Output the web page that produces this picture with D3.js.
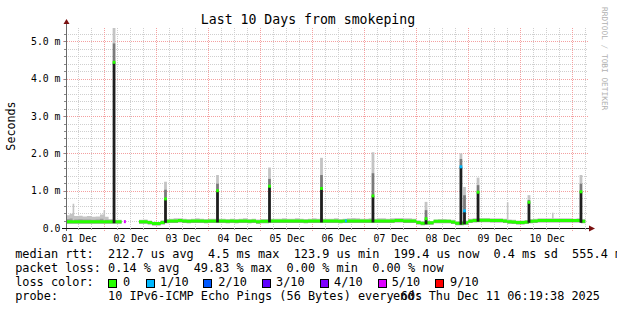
<!DOCTYPE html>
<html><head><meta charset="utf-8">
<script src="https://cdn.jsdelivr.net/npm/d3@7"></script>
<style>
html,body{margin:0;padding:0;background:#fff;overflow:hidden}
text{font-family:"DejaVu Sans Mono",monospace;white-space:pre}
</style>
</head><body><svg id="c" width="617" height="310"></svg>
<script>
// ---------------- data ----------------
const chartTitle = "Last 10 Days from smokeping";
const startTime = "2025-12-01T06:19:38Z";
const endTime = "2025-12-11T06:19:38Z";
const slotStart = "2025-12-01T06:00:00Z";
const slotHours = 2;
// median RTT (ms) per 2-hour slot, one row per day (06:00 -> 06:00)
const medianMs = [
  .17,.17,.17,.17,.17,.17,.17,.17,.17,.17,.17,.17,
  .17,.17,null,null,null,.17,.17,.15,.12,.12,.15,.18,
  .19,.19,.20,.19,.18,.19,.19,.19,.18,.19,.19,.19,
  .19,.18,.19,.18,.19,.19,.18,.19,.17,.18,.18,.19,
  .19,.19,.19,.19,.19,.19,.19,.18,.19,.19,.19,.19,
  .19,.19,.19,.18,.19,.19,.19,.19,.19,.19,.19,.19,
  .19,.19,.19,.19,.20,.20,.19,.19,.19,.15,.13,.14,
  .14,.18,.18,.18,.18,.16,.13,.13,.14,.19,.20,.21,
  .21,.21,.20,.20,.20,.19,.17,.16,.15,.15,.16,.18,
  .19,.20,.20,.20,.20,.20,.20,.20,.20,.20,.20,.18
];
// top of the smoke (ms) per 2-hour slot
const smokeTopMs = [
  .34,.38,.32,.33,.31,.32,.30,.31,.36,.30,.24,.22,
  .22,.21,null,null,null,.22,.23,.20,.17,.16,.21,.24,
  .25,.26,.26,.25,.24,.25,.26,.25,.24,.25,.25,.25,
  .25,.24,.25,.24,.25,.26,.24,.25,.23,.24,.24,.25,
  .25,.25,.26,.25,.25,.26,.25,.24,.25,.26,.25,.25,
  .25,.25,.26,.24,.25,.26,.27,.26,.25,.25,.26,.25,
  .26,.26,.25,.26,.27,.27,.26,.26,.25,.21,.18,.20,
  .19,.23,.24,.24,.23,.22,.18,.18,.20,.25,.26,.27,
  .27,.27,.26,.26,.26,.25,.23,.22,.20,.20,.21,.24,
  .25,.26,.26,.26,.26,.26,.26,.26,.26,.25,.26,.24
];
// short latency spikes
const spikeTimes = ["2025-12-02T04:30Z","2025-12-03T04:15Z","2025-12-04T04:15Z","2025-12-05T04:15Z",
  "2025-12-06T04:15Z","2025-12-07T04:00Z","2025-12-08T04:30Z","2025-12-08T20:36Z","2025-12-08T22:15Z",
  "2025-12-09T04:30Z","2025-12-10T04:00Z","2025-12-11T04:00Z"];
const spikeMedianMs = [4.44, .78, 1.00, 1.12, 1.06, .86, .25, 1.64, .46, .96, .69, .97];
const spikeMidMs    = [4.95, 1.03, 1.19, 1.32, 1.42, 1.47, .48, 1.85, .88, 1.15, .75, 1.19];
const spikeTopMs    = [5.36, 1.24, 1.42, 1.62, 1.88, 2.03, .70, 2.00, 1.10, 1.35, .88, 1.42];
const spikeLoss     = [0, 0, 0, 0, 0, 0, 0, 1, 1, 0, 0, 0];
// thin light smoke only
const thinSmokeTimes = ["2025-12-01T09:45Z","2025-12-02T00:00Z","2025-12-09T18:10Z","2025-12-10T15:00Z"];
const thinSmokeTopMs = [.65, .48, .69, .41];
// loss events on baseline
const lossTimes = ["2025-12-02T09:30Z","2025-12-06T15:30Z"];
const lossLevels = [5, 1];

const dayLabels = ["01 Dec","02 Dec","03 Dec","04 Dec","05 Dec","06 Dec","07 Dec","08 Dec","09 Dec","10 Dec"];
const dayLabelTimes = ["2025-12-01T12:00Z","2025-12-02T12:00Z","2025-12-03T12:00Z","2025-12-04T12:00Z","2025-12-05T12:00Z",
  "2025-12-06T12:00Z","2025-12-07T12:00Z","2025-12-08T12:00Z","2025-12-09T12:00Z","2025-12-10T12:00Z"];
const yTickValues = [0, 1, 2, 3, 4, 5];
const yTickLabels = ["0.0","1.0 m","2.0 m","3.0 m","4.0 m","5.0 m"];
const yMaxMs = 5.36;

const lossColorLevels = [0, 1, 2, 3, 4, 5, 9];
const lossColorLabels = ["0","1/10","2/10","3/10","4/10","5/10","9/10"];
const lossColorValues = ["#26ff00","#00b8ff","#0059ff","#5e00ff","#7e00ff","#dd00ff","#ff0000"];

const legendLines = [
  "median rtt:  212.7 us avg  4.5 ms max  123.9 us min  199.4 us now  0.4 ms sd  555.4 m",
  "packet loss: 0.14 % avg  49.83 % max  0.00 % min  0.00 % now"
];
const lossColorTitle = "loss color:";
const probeTitle = "probe:";
const probeText = "10 IPv6-ICMP Echo Pings (56 Bytes) every 60s";
const endText = "end: Thu Dec 11 06:19:38 2025";

// ---------------- layout ----------------
const L = 66, R = 586, T = 28, B = 228;
const svg = d3.select("#c");
const t0 = d3.isoParse(startTime), t1 = d3.isoParse(endTime);
const x = d3.scaleUtc().domain([t0, t1]).range([L, R]);
const y = d3.scaleLinear().domain([0, yMaxMs]).range([B, T]);
const lossColor = d3.scaleOrdinal().domain(lossColorLevels).range(lossColorValues);

svg.append("rect").attr("width",617).attr("height",310).attr("fill","#fff");

// grid
const g = svg.append("g").attr("shape-rendering","crispEdges");
const minorT = d3.utcHour.every(6).range(t0, t1).filter(d => d.getUTCHours() !== 0);
const majorT = d3.utcDay.range(t0, t1);
g.selectAll(".vmin").data(minorT).join("line")
  .attr("x1", d => Math.round(x(d))+0.5).attr("x2", d => Math.round(x(d))+0.5)
  .attr("y1", T).attr("y2", B).attr("stroke","#cfcfcf").attr("stroke-dasharray","1,1");
const minorV = d3.range(1, 27).map(i => i*0.2).filter(v => Math.abs(v - Math.round(v)) > 1e-6 && v < yMaxMs);
g.selectAll(".hmin").data(minorV).join("line")
  .attr("x1", L).attr("x2", R+2).attr("y1", d => Math.round(y(d))+0.5).attr("y2", d => Math.round(y(d))+0.5)
  .attr("stroke","#cfcfcf").attr("stroke-dasharray","1,1");
g.selectAll(".vmaj").data(majorT).join("line")
  .attr("x1", d => Math.round(x(d))+0.5).attr("x2", d => Math.round(x(d))+0.5)
  .attr("y1", T).attr("y2", B+3).attr("stroke","#f4a0a0").attr("stroke-dasharray","1,1");
g.selectAll(".hmaj").data(yTickValues.slice(1)).join("line")
  .attr("x1", L-3).attr("x2", R+2).attr("y1", d => Math.round(y(d))+0.5).attr("y2", d => Math.round(y(d))+0.5)
  .attr("stroke","#f4a0a0").attr("stroke-dasharray","1,1");

// baseline smoke & median
const s0 = d3.isoParse(slotStart);
const slots = medianMs.map((m, i) => ({t: d3.utcHour.offset(s0, i*slotHours), med: m, top: smokeTopMs[i]}));
slots.push({t: d3.utcHour.offset(s0, medianMs.length*slotHours), med: medianMs[medianMs.length-1], top: smokeTopMs[smokeTopMs.length-1]});
svg.append("clipPath").attr("id","pc").append("rect").attr("x",L+1).attr("y",T-2).attr("width",R-L-1).attr("height",B-T+2);
const data = svg.append("g").attr("clip-path","url(#pc)");
const def = d => d.med != null;
data.append("path").datum(slots).attr("fill","#c4c4c4")
  .attr("d", d3.area().defined(def).curve(d3.curveStepAfter).x(d => x(d.t)).y0(d => y(d.med)).y1(d => y(d.top)));
data.append("path").datum(slots).attr("fill","#9c9c9c")
  .attr("d", d3.area().defined(def).curve(d3.curveStepAfter).x(d => x(d.t)).y0(d => y(d.med)+2).y1(d => y(d.med + (d.top-d.med)*0.4)));
data.append("path").datum(slots).attr("fill", lossColor(0))
  .attr("d", d3.area().defined(def).curve(d3.curveStepAfter).x(d => x(d.t)).y0(d => y(d.med)+1.5).y1(d => y(d.med)-1.5));

function baseAt(t) {
  const i = Math.max(0, Math.min(medianMs.length-1, Math.floor((t - s0) / (slotHours*3600e3))));
  return medianMs[i] == null ? 0.17 : medianMs[i];
}

// thin smoke
data.selectAll(".thin").data(thinSmokeTimes.map((t,i) => ({t: d3.isoParse(t), top: thinSmokeTopMs[i]}))).join("rect")
  .attr("x", d => x(d.t)-0.8).attr("width", 1.6)
  .attr("y", d => y(d.top)).attr("height", d => y(baseAt(d.t)) - 1.5 - y(d.top)).attr("fill","#c4c4c4");

// spikes
const spikes = spikeTimes.map((t, i) => ({t: d3.isoParse(t), med: spikeMedianMs[i], mid: spikeMidMs[i], top: spikeTopMs[i], loss: spikeLoss[i]}));
const sw = 2.8;
const sg = data.selectAll(".spk").data(spikes).join("g");
sg.append("rect").attr("x", d => x(d.t)-sw/2).attr("width", sw)
  .attr("y", d => y(d.top)).attr("height", d => y(d.mid)-y(d.top)).attr("fill","#c4c4c4");
sg.append("rect").attr("x", d => x(d.t)-sw/2).attr("width", sw)
  .attr("y", d => y(d.mid)).attr("height", d => y(d.med)-y(d.mid)).attr("fill","#7a7a7a");
sg.append("rect").attr("x", d => x(d.t)-sw/2).attr("width", sw)
  .attr("y", d => y(d.med)).attr("height", d => y(baseAt(d.t)) + 1.5 - y(d.med)).attr("fill","#1e1e1e");
sg.append("rect").attr("x", d => x(d.t)-sw/2).attr("width", sw)
  .attr("y", d => y(d.med)-1.5).attr("height", 3).attr("fill", d => lossColor(d.loss));

// loss events on baseline
data.selectAll(".loss").data(lossTimes.map((t,i) => ({t: d3.isoParse(t), lv: lossLevels[i]}))).join("rect")
  .attr("x", d => x(d.t)-1).attr("width", 2)
  .attr("y", d => y(baseAt(d.t))-1.5).attr("height", 3).attr("fill", d => lossColor(d.lv));

// axes
const ax = svg.append("g").attr("shape-rendering","crispEdges");
ax.append("line").attr("x1", L+0.5).attr("x2", L+0.5).attr("y1", B+3).attr("y2", T-6).attr("stroke","#6a6a6a");
ax.append("line").attr("x1", L-4).attr("x2", R+4).attr("y1", B+0.5).attr("y2", B+0.5).attr("stroke","#111");
ax.selectAll(".ytk").data(minorV.concat(yTickValues.slice(1))).join("line")
  .attr("x1", L-2).attr("x2", L).attr("y1", d => Math.round(y(d))+0.5).attr("y2", d => Math.round(y(d))+0.5).attr("stroke","#888");
ax.selectAll(".xtk").data(minorT).join("line")
  .attr("x1", d => Math.round(x(d))+0.5).attr("x2", d => Math.round(x(d))+0.5).attr("y1", B).attr("y2", B+2).attr("stroke","#aaa");
svg.append("path").attr("fill","#7a1010")
  .attr("d", `M${L-2.5},${T-4} L${L+3.5},${T-4} L${L+0.5},${T-9} Z`);
svg.append("path").attr("fill","#7a1010")
  .attr("d", `M${R+3},${B-2.5} L${R+3},${B+3.5} L${R+9},${B+0.5} Z`);

// y labels
svg.selectAll(".yl").data(yTickValues).join("text")
  .attr("x", 60.5).attr("y", d => y(d)+3.6).attr("text-anchor","end")
  .attr("font-size", 9.8).attr("fill","#000").text((d,i) => yTickLabels[i]);
// x labels
svg.selectAll(".xl").data(dayLabelTimes).join("text")
  .attr("x", d => x(d3.isoParse(d))+1).attr("y", 241.5).attr("text-anchor","middle")
  .attr("font-size", 9.8).attr("fill","#000").text((d,i) => dayLabels[i]);

// title & axis title
svg.append("text").attr("x", 308).attr("y", 24).attr("text-anchor","middle").attr("font-size", 13.2).text(chartTitle);
svg.append("text").attr("transform","translate(15,126) rotate(-90)").attr("text-anchor","middle")
  .attr("font-size", 11.7).text("Seconds");
svg.append("text").attr("transform","translate(602,7) rotate(90)").attr("font-size", 7.8)
  .attr("fill","#b0b0b0").text("RRDTOOL / TOBI OETIKER");

// legend
const fs = 11.86;
const lx = 15.2;
svg.selectAll(".lg").data(legendLines).join("text")
  .attr("x", lx).attr("y", (d,i) => 258.3 + i*14).attr("font-size", fs).text(d => d);
svg.append("text").attr("x",lx).attr("y",286.3).attr("font-size",fs).text(lossColorTitle);
const sqX = [108.3,145.7,203.3,261.7,320,377.7,435];
const lbX = [123,160,218.3,276,334,391.7,450];
svg.selectAll(".sq").data(lossColorLevels).join("rect")
  .attr("x", (d,i) => Math.round(sqX[i])+0.5).attr("y", 279.5).attr("width", 8).attr("height", 8)
  .attr("fill", d => lossColor(d)).attr("stroke","#000").attr("shape-rendering","crispEdges");
svg.selectAll(".sql").data(lossColorLabels).join("text")
  .attr("x", (d,i) => lbX[i]).attr("y", 286.3).attr("font-size", fs).text(d => d);
svg.append("text").attr("x",lx).attr("y",300.3).attr("font-size",fs).text(probeTitle);
svg.append("text").attr("x",lx + 13*7.14).attr("y",300.3).attr("font-size",fs).text(probeText);
svg.append("text").attr("x",600).attr("y",300.3).attr("text-anchor","end").attr("font-size",fs).text(endText);
</script>
</body></html>
